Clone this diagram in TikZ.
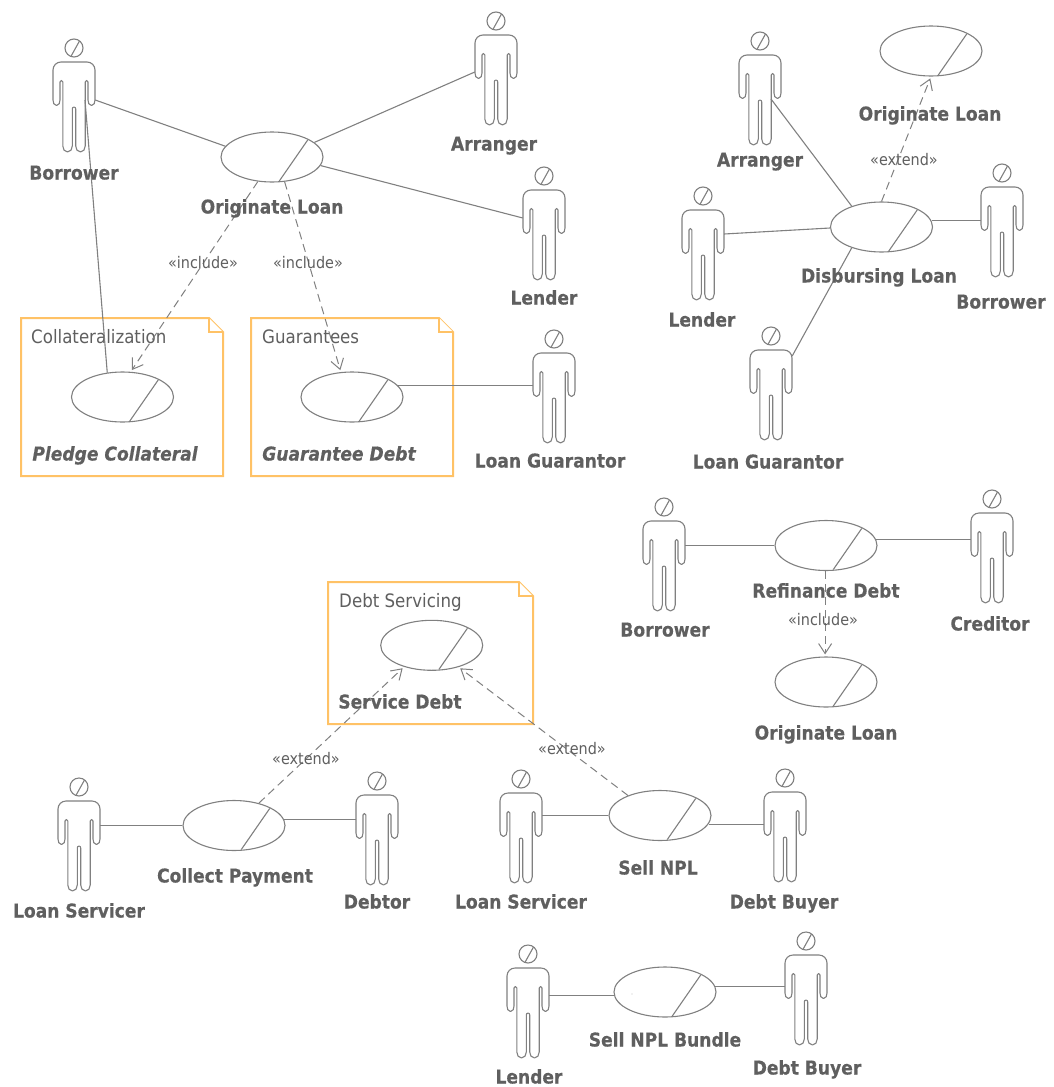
\documentclass[tikz,border=0pt]{standalone}
\usepackage{fontspec}
\setmainfont{DejaVu Sans}[FakeStretch=0.9,BoldFeatures={FakeBold=0.4},BoldItalicFeatures={FakeBold=0.4}]
\usetikzlibrary{arrows.meta,shapes.geometric}
\definecolor{ink}{HTML}{5F5F5F}
\definecolor{ln}{HTML}{808080}
\definecolor{pk}{HTML}{FFC266}
\tikzset{
  x=1pt,y=-1pt,
  line/.style={draw=ln,line width=1.1pt},
  dep/.style={draw=ln,line width=1pt,dash pattern=on 8pt off 5pt,shorten >=2pt,-{Straight Barb[length=10pt,width=13pt,line width=1pt]}},
  uc/.style={ellipse,draw=ln,line width=1.1pt,minimum width=102pt,minimum height=50pt,inner sep=0pt,fill=white},
  actorbox/.style={rectangle,minimum width=42pt,minimum height=90pt,inner sep=0pt},
  lab/.style={text=ink,font=\fontsize{19}{21}\bfseries\selectfont,inner sep=0pt,text height=14pt,text depth=3pt},
  lbi/.style={text=ink,font=\fontsize{19}{21}\bfseries\itshape\selectfont,inner sep=0pt,text height=14pt,text depth=3pt},
  pkt/.style={text=ink,font=\fontsize{18.5}{21}\selectfont,inner sep=0pt,anchor=west},
  stereo/.style={text=ink,font=\fontsize{16}{18}\selectfont,inner sep=0pt},
  pkg/.style={draw=pk,line width=2pt,fill=white,line join=miter},
}
% body centre x, body top y, name
\newcommand{\actor}[3]{%
  \node[actorbox] (#3) at (#1,#2+45) {};
  \begin{scope}[shift={(#1,#2)}]
    \draw[line] (0,-14) circle[radius=9];
    \draw[line] (-3,-5.7) -- (5.5,-21);
    \draw[line,line join=round] (-13,0) -- (13,0) to[out=0,in=90] (21,8) -- (21,38)
      to[out=-90,in=0] (17.5,43.5) to[out=180,in=-90] (14,38) -- (14,20) to[out=90,in=0] (12.6,18.5) to[out=180,in=90] (11.2,20)
      -- (11.2,84) to[out=-90,in=0] (6.5,90) to[out=180,in=-90] (1.7,84) -- (1.7,47)
      to[out=90,in=0] (0,45) to[out=180,in=90] (-1.7,47) -- (-1.7,84)
      to[out=-90,in=0] (-6.5,90) to[out=180,in=-90] (-11.2,84) -- (-11.2,20)
      to[out=90,in=0] (-12.6,18.5) to[out=180,in=90] (-14,20) -- (-14,38)
      to[out=-90,in=0] (-17.5,43.5) to[out=180,in=-90] (-21,38) -- (-21,8) to[out=90,in=180] (-13,0) -- cycle;
  \end{scope}}
\newcommand{\usecase}[3]{%
  \node[uc] (#3) at (#1,#2) {};
  \draw[line] (#3.center) ++(35.7,-17) -- ++(-28.4,41);}
\newcommand{\package}[4]{% x0 y0 x1 y1
  \draw[pkg] (#1,#2) -- (#3-14,#2) -- (#3,#2+14) -- (#3,#4) -- (#1,#4) -- cycle;
  \draw[pkg] (#3-14,#2) -- (#3-14,#2+14) -- (#3,#2+14);}
\begin{document}
\begin{tikzpicture}
\useasboundingbox (0,0) rectangle (1053,1087);
\package{21}{318}{223}{476}
\package{251}{318}{453}{476}
\package{328}{582}{533}{724}
\node[pkt] (p1) at (31,337) {Collateralization};
\node[pkt] (p2) at (262,337) {Guarantees};
\node[pkt] (p3) at (339,602) {Debt Servicing};

\actor{74}{62}{a1}
\actor{496}{35}{a2}
\actor{544}{190}{a3}
\actor{554}{353}{a4}
\actor{760}{55}{b1}
\actor{703}{210}{b2}
\actor{1002}{187}{b3}
\actor{771}{350}{b4}
\actor{664}{521}{c1}
\actor{992}{513}{c2}
\actor{79}{801}{d1}
\actor{377}{795}{d2}
\actor{521}{793}{e1}
\actor{785}{792}{e2}
\actor{528}{968}{f1}
\actor{806}{955}{f2}

\usecase{272}{157}{u1}
\usecase{122.5}{397}{u2}
\usecase{352}{397}{u3}
\usecase{931}{51}{u4}
\usecase{881.5}{227}{u5}
\usecase{826}{545.5}{u6}
\usecase{826}{682}{u7}
\usecase{431.7}{645.3}{u8}
\usecase{234}{825.5}{u9}
\usecase{660}{815.5}{u10}
\usecase{665}{992}{u11}
\fill[ink] (632,994) circle[radius=0.3];

\coordinate (a1hip) at (85,100);
\coordinate (b1hip) at (771,99);
\draw[line] (a1.east |- 0,100) -- (u1.167);
\draw[line] (a1hip) -- (u2.122);
\draw[line] (a2.west |- 0,72) -- (u1.19);
\draw[line] (a3.west |- 0,218) -- (u1.-10);
\draw[line] (u3.14) -- (a4.west |- u3.14);
\draw[line] (b1hip) -- (u5.145);
\draw[line] (b2.east |- 0,234) -- (u5.west |- 0,228);
\draw[line] (u5.7) -- (b3.west |- u5.7);
\draw[line] (b4.east |- 0,356) -- (u5.215);
\draw[line] (c1.east |- u6.180) -- (u6.180);
\draw[line] (u6.7) -- (c2.west |- u6.7);
\draw[line] (d1.east |- u9.180) -- (u9.180);
\draw[line] (u9.7) -- (d2.west |- u9.7);
\draw[line] (e1.east |- u10.180) -- (u10.180);
\draw[line] (u10.-10) -- (e2.west |- u10.-10);
\draw[line] (f1.east |- u11.184) -- (u11.184);
\draw[line] (u11.6) -- (f2.west |- u11.6);

\draw[dep] (u1.240) -- (u2.72);
\draw[dep] (u1.-63) -- (u3.114);
\draw[dep] (u5.90) -- (u4.south);
\draw[dep] (u6.268) -- (u7.92);
\draw[dep] (u9.42) -- (u8.218);
\draw[dep] (u10.148) -- (u8.-39);

\node[stereo] (s1) at (203,263) {«include»};
\node[stereo] (s2) at (308,263) {«include»};
\node[stereo] (s3) at (904,160) {«extend»};
\node[stereo] (s4) at (823,620) {«include»};
\node[stereo] (s5) at (306,759) {«extend»};
\node[stereo] (s6) at (572,749) {«extend»};

\node[lab] (l1) at (74,174) {Borrower};
\node[lab] (l2) at (272,208) {Originate Loan};
\node[lab] (l3) at (494,145) {Arranger};
\node[lab] (l4) at (544,299) {Lender};
\node[lab] (l5) at (550,462) {Loan Guarantor};
\node[lbi] (l6) at (115,455) {Pledge Collateral};
\node[lbi] (l7) at (339,455) {Guarantee Debt};
\node[lab] (l8) at (930,115) {Originate Loan};
\node[lab] (l9) at (760,161) {Arranger};
\node[lab] (l10) at (702,321) {Lender};
\node[lab] (l11) at (879,277) {Disbursing Loan};
\node[lab] (l12) at (1001,303) {Borrower};
\node[lab] (l13) at (768,463) {Loan Guarantor};
\node[lab] (l14) at (665,631) {Borrower};
\node[lab] (l15) at (826,592) {Refinance Debt};
\node[lab] (l16) at (990,625) {Creditor};
\node[lab] (l17) at (826,734) {Originate Loan};
\node[lab] (l18) at (400,703) {Service Debt};
\node[lab] (l19) at (235,877) {Collect Payment};
\node[lab] (l20) at (79,912) {Loan Servicer};
\node[lab] (l21) at (377,903) {Debtor};
\node[lab] (l22) at (521,903) {Loan Servicer};
\node[lab] (l23) at (658,869) {Sell NPL};
\node[lab] (l24) at (784,903) {Debt Buyer};
\node[lab] (l25) at (665,1041) {Sell NPL Bundle};
\node[lab] (l26) at (529,1078) {Lender};
\node[lab] (l27) at (807,1069) {Debt Buyer};
\end{tikzpicture}
\end{document}
